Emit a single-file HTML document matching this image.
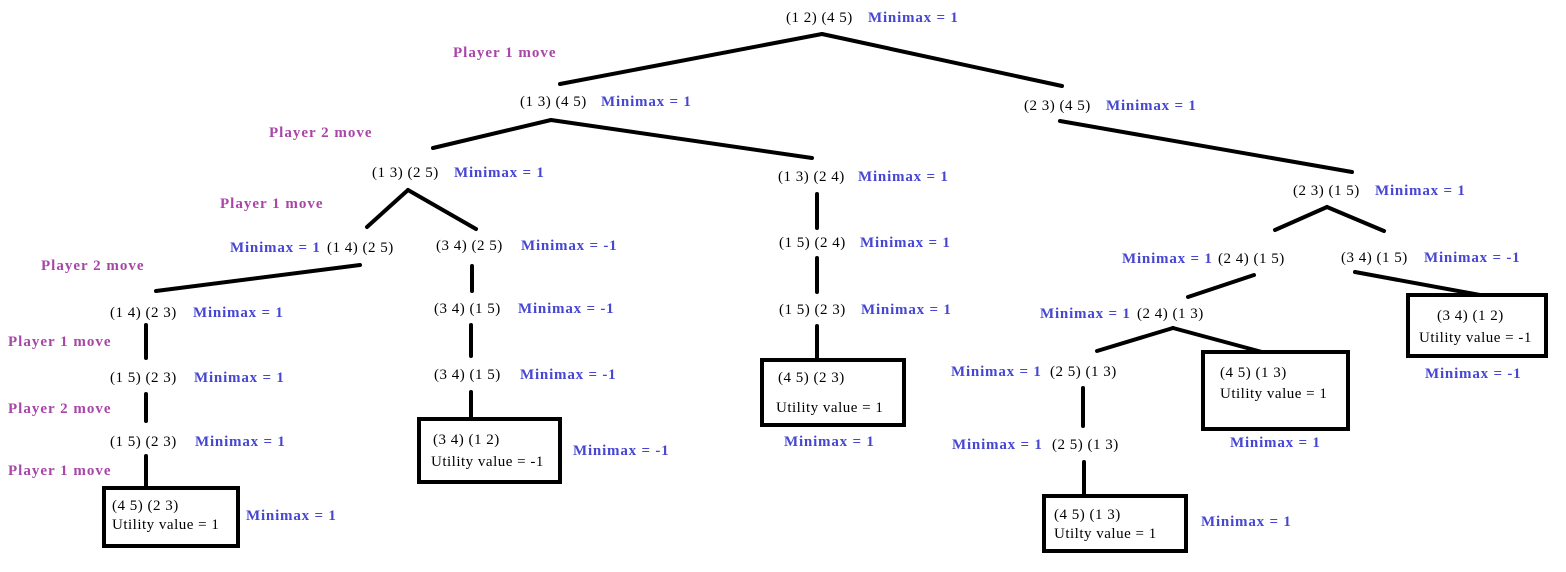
<!DOCTYPE html>
<html><head><meta charset="utf-8"><style>
html,body{margin:0;padding:0;background:#fff;}
svg{display:block;}
text{font-family:"Liberation Serif",serif;font-size:15px;fill:#000;letter-spacing:0.5px;}
.b{font-weight:bold;fill:#4646d2;letter-spacing:0.8px;}
.p{font-weight:bold;fill:#a846a8;letter-spacing:1px;}
line{stroke:#000;stroke-width:4;stroke-linecap:round;}
rect{fill:#fff;stroke:#000;stroke-width:4;}
</style></head><body>
<svg width="1566" height="572" viewBox="0 0 1566 572" xmlns="http://www.w3.org/2000/svg">
<line x1="822" y1="34" x2="560" y2="84"/>
<line x1="822" y1="34" x2="1062" y2="86"/>
<line x1="551" y1="120" x2="433" y2="148"/>
<line x1="551" y1="120" x2="812" y2="158"/>
<line x1="1060" y1="121" x2="1352" y2="172"/>
<line x1="408" y1="190" x2="367" y2="227"/>
<line x1="408" y1="190" x2="476" y2="229"/>
<line x1="360" y1="265" x2="156" y2="291"/>
<line x1="146" y1="325" x2="146" y2="358"/>
<line x1="146" y1="394" x2="146" y2="421"/>
<line x1="146" y1="456" x2="146" y2="488"/>
<line x1="472" y1="266" x2="472" y2="291"/>
<line x1="471" y1="325" x2="471" y2="356"/>
<line x1="471" y1="392" x2="471" y2="418"/>
<line x1="817" y1="194" x2="817" y2="228"/>
<line x1="817" y1="258" x2="817" y2="292"/>
<line x1="817" y1="326" x2="817" y2="360"/>
<line x1="1327" y1="207" x2="1275" y2="230"/>
<line x1="1327" y1="207" x2="1384" y2="231"/>
<line x1="1254" y1="275" x2="1188" y2="297"/>
<line x1="1355" y1="272" x2="1480" y2="295"/>
<line x1="1173" y1="328" x2="1097" y2="351"/>
<line x1="1173" y1="328" x2="1262" y2="352"/>
<line x1="1083" y1="388" x2="1083" y2="426"/>
<line x1="1084" y1="462" x2="1084" y2="496"/>
<rect x="104" y="488" width="134" height="58"/>
<rect x="419" y="419" width="141" height="63"/>
<rect x="762" y="360" width="142" height="65"/>
<rect x="1203" y="352" width="145" height="77"/>
<rect x="1408" y="295" width="138" height="61"/>
<rect x="1044" y="496" width="142" height="55"/>

<text x="786" y="22">(1 2) (4 5)</text><text class="b" x="868" y="22">Minimax = 1</text>
<text class="p" x="453" y="57">Player 1 move</text>
<text x="520" y="106">(1 3) (4 5)</text><text class="b" x="601" y="106">Minimax = 1</text>
<text x="1024" y="110">(2 3) (4 5)</text><text class="b" x="1106" y="110">Minimax = 1</text>
<text class="p" x="269" y="137">Player 2 move</text>
<text x="372" y="177">(1 3) (2 5)</text><text class="b" x="454" y="177">Minimax = 1</text>
<text x="778" y="181">(1 3) (2 4)</text><text class="b" x="858" y="181">Minimax = 1</text>
<text x="1293" y="195">(2 3) (1 5)</text><text class="b" x="1375" y="195">Minimax = 1</text>
<text class="p" x="220" y="208">Player 1 move</text>
<text class="b" x="230" y="252">Minimax = 1</text><text x="327" y="252">(1 4) (2 5)</text>
<text x="436" y="250">(3 4) (2 5)</text><text class="b" x="521" y="250">Minimax = -1</text>
<text x="779" y="247">(1 5) (2 4)</text><text class="b" x="860" y="247">Minimax = 1</text>
<text class="b" x="1122" y="263">Minimax = 1</text><text x="1218" y="263">(2 4) (1 5)</text>
<text x="1341" y="262">(3 4) (1 5)</text><text class="b" x="1424" y="262">Minimax = -1</text>
<text class="p" x="41" y="270">Player 2 move</text>
<text x="110" y="317">(1 4) (2 3)</text><text class="b" x="193" y="317">Minimax = 1</text>
<text x="434" y="313">(3 4) (1 5)</text><text class="b" x="518" y="313">Minimax = -1</text>
<text x="779" y="314">(1 5) (2 3)</text><text class="b" x="861" y="314">Minimax = 1</text>
<text class="b" x="1040" y="318">Minimax = 1</text><text x="1137" y="318">(2 4) (1 3)</text>
<text x="1437" y="320">(3 4) (1 2)</text><text x="1419" y="342">Utility value = -1</text>
<text class="p" x="8" y="346">Player 1 move</text>
<text class="b" x="951" y="376">Minimax = 1</text><text x="1050" y="376">(2 5) (1 3)</text>
<text x="1220" y="377">(4 5) (1 3)</text><text x="1220" y="398">Utility value = 1</text>
<text class="b" x="1425" y="378">Minimax = -1</text>
<text x="778" y="382">(4 5) (2 3)</text><text x="776" y="412">Utility value = 1</text>
<text x="110" y="382">(1 5) (2 3)</text><text class="b" x="194" y="382">Minimax = 1</text>
<text x="434" y="379">(3 4) (1 5)</text><text class="b" x="520" y="379">Minimax = -1</text>
<text class="p" x="8" y="413">Player 2 move</text>
<text x="433" y="444">(3 4) (1 2)</text><text x="431" y="466">Utility value = -1</text>
<text class="b" x="573" y="455">Minimax = -1</text>
<text class="b" x="784" y="446">Minimax = 1</text>
<text class="b" x="1230" y="447">Minimax = 1</text>
<text x="110" y="446">(1 5) (2 3)</text><text class="b" x="195" y="446">Minimax = 1</text>
<text class="b" x="952" y="449">Minimax = 1</text><text x="1052" y="449">(2 5) (1 3)</text>
<text class="p" x="8" y="475">Player 1 move</text>
<text x="112" y="510">(4 5) (2 3)</text><text x="112" y="529">Utility value = 1</text>
<text class="b" x="246" y="520">Minimax = 1</text>
<text x="1054" y="519">(4 5) (1 3)</text><text x="1054" y="538">Utilty value = 1</text>
<text class="b" x="1201" y="526">Minimax = 1</text>
</svg>
</body></html>
